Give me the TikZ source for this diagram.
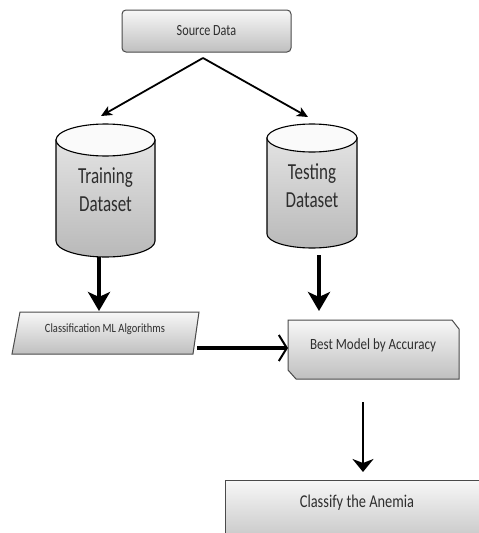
\documentclass[tikz,border=0pt]{standalone}
\usepackage{fontspec}
\setmainfont{Carlito}
\usepackage{graphicx}
\usetikzlibrary{arrows.meta,calc}
\definecolor{edge}{HTML}{4A4A4A}
\definecolor{ink}{HTML}{2E2E2E}
% vertically stretched text
\newcommand\tallbox[2]{\scalebox{1}[#1]{#2}}
\begin{document}
\begin{tikzpicture}[x=1pt,y=1pt,
  box/.style={draw=edge, line width=1pt, top color=gray!6, bottom color=gray!50},
  drum/.style={draw=black, line width=1.1pt, top color=gray!22, bottom color=gray!55},
  lid/.style={draw=black, line width=1.1pt, fill=gray!4},
  label/.style={text=ink, inner sep=0pt, align=center},
  thin arrow/.style={line width=1.8pt, -{Stealth[length=11pt,width=10pt,inset=3pt]}},
  thick arrow/.style={line width=3.6pt, -{Stealth[length=19pt,width=22pt,inset=5pt]}},
  barb arrow/.style={line width=3.4pt, -{Straight Barb[length=8pt,width=26pt,line width=2pt]}},
  mid arrow/.style={line width=2.2pt, -{Stealth[length=13pt,width=21pt,inset=4pt]}}]
\useasboundingbox (0,0) rectangle (479,-533);
\clip (0,0) rectangle (479,-533);

% source box
\node[box, rounded corners=4pt, minimum width=169pt, minimum height=42pt, inner sep=0pt,
      text=ink] (src) at (206.5,-31) {\fontsize{12.2}{14}\selectfont\tallbox{1.27}{Source Data}};

% training cylinder
\path[drum] (56,-140) -- (56,-241) arc[start angle=180,end angle=360,x radius=49.5,y radius=16] -- (155,-140) -- cycle;
\path[lid] (105.5,-140) ellipse[x radius=49.5,y radius=16];
\node[label] (train) at (105.5,-192)
  {\tallbox{1.35}{\fontsize{17}{20.5}\selectfont\begin{tabular}{@{}c@{}}Training\\Dataset\end{tabular}}};

% testing cylinder
\path[drum] (267,-138) -- (267,-234) arc[start angle=180,end angle=360,x radius=45,y radius=14] -- (357,-138) -- cycle;
\path[lid] (312,-138) ellipse[x radius=45,y radius=14];
\node[label] (test) at (312,-188)
  {\tallbox{1.35}{\fontsize{17}{20.5}\selectfont\begin{tabular}{@{}c@{}}Testing\\Dataset\end{tabular}}};

% algorithms parallelogram
\path[box] (20,-312) -- (199,-312) -- (193,-354) -- (12,-354) -- cycle;
\node[label] (cls) at (105,-329) {\fontsize{10.5}{12}\selectfont\tallbox{1.2}{Classification ML Algorithms}};

% best model box with snipped corners
\path[box] (288,-320) -- (452,-320) -- (459,-329) -- (459,-379) -- (296,-379) -- (288,-370) -- cycle;
\node[label] (best) at (373,-345) {\fontsize{13}{15}\selectfont\tallbox{1.2}{Best Model by Accuracy}};

% result box
\path[box, bottom color=gray!58] (225,-480) rectangle (490,-562);
\node[label] (anemia) at (357,-503) {\fontsize{14.4}{17}\selectfont\tallbox{1.25}{Classify the Anemia}};

% connector ends
\coordinate (fork) at (203,-58);
\coordinate (trainIn) at (101,-116);
\coordinate (testIn) at (308,-117);
\coordinate (trainOut) at (99,-257);
\coordinate (clsIn) at (99,-311);
\coordinate (testOut) at (319,-255);
\coordinate (bestIn) at (319,-311);
\coordinate (clsOut) at (197,-348);
\coordinate (bestLeft) at (288,-348);
\coordinate (bestOut) at (363,-402);
\coordinate (anemiaIn) at (363,-472);

\draw[thin arrow] (fork) -- (trainIn);
\draw[thin arrow] (fork) -- (testIn);
\draw[thick arrow] (trainOut) -- (clsIn);
\draw[thick arrow] (testOut) -- (bestIn);
\draw[barb arrow] (clsOut) -- (bestLeft);
\draw[mid arrow] (bestOut) -- (anemiaIn);
\end{tikzpicture}
\end{document}
